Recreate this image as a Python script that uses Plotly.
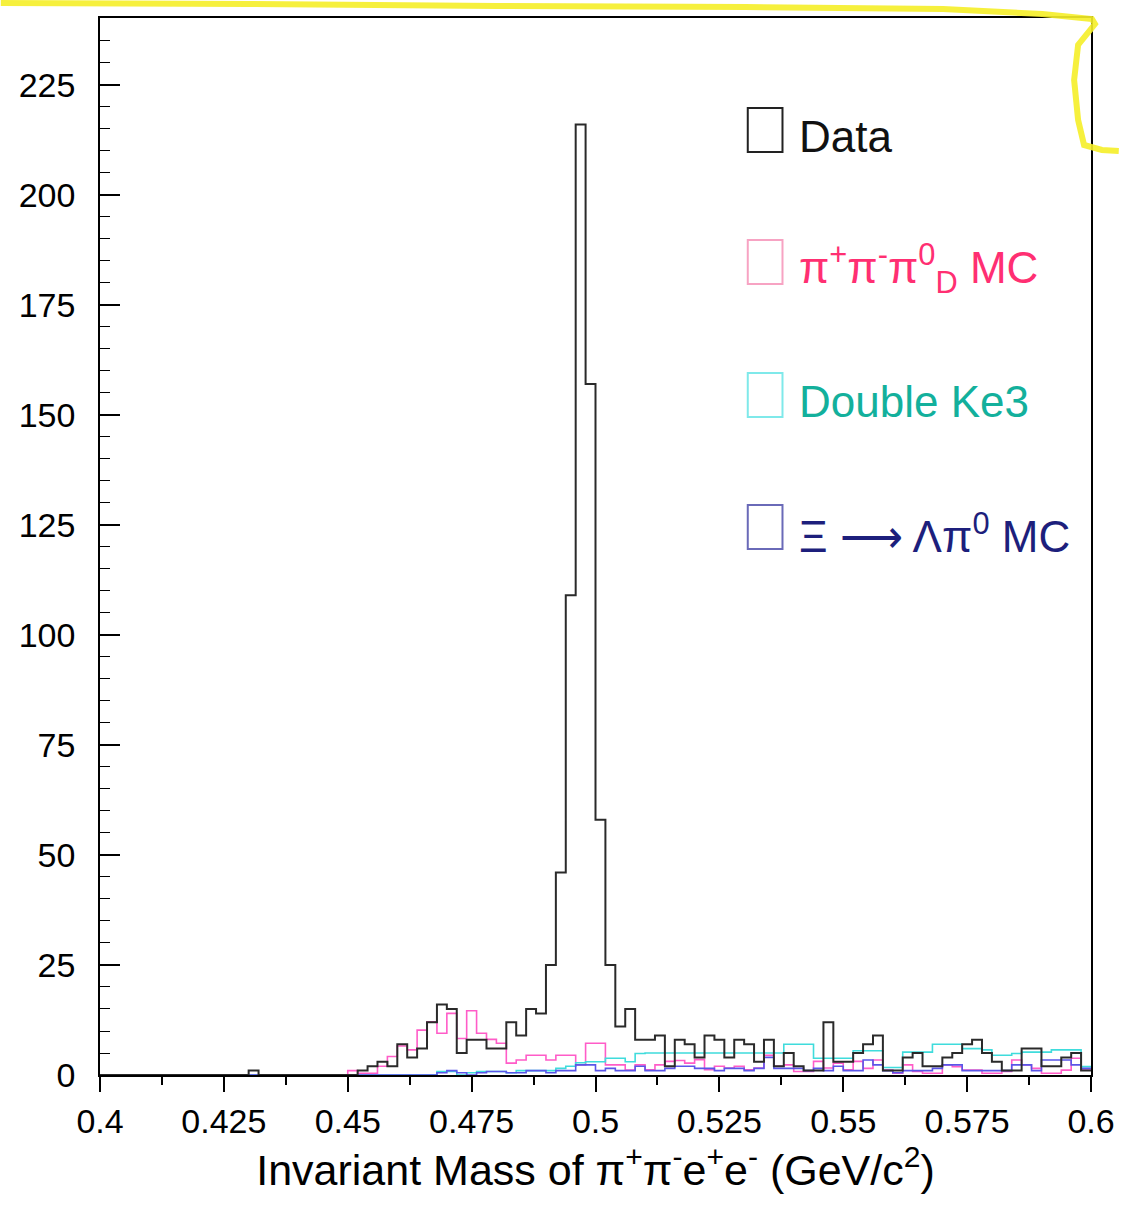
import plotly.graph_objects as go

# ---------------- data ----------------
bin_low = 0.4
bin_width = 0.002
n_bins = 100
bin_edges = [round(bin_low + i * bin_width, 4) for i in range(n_bins + 1)]

data_counts = [
    0, 0, 0, 0, 0, 0, 0, 0, 0, 0,
    0, 0, 0, 0, 0, 1, 0, 0, 0, 0,
    0, 0, 0, 0, 0, 0, 1, 2, 3, 2,
    7, 4, 6, 12, 16, 15, 5, 8, 8, 6,
    6, 12, 9, 15, 14, 25, 46, 109, 216, 157,
    58, 25, 11, 15, 8, 8, 9, 2, 8, 7,
    4, 9, 8, 4, 8, 7, 3, 8, 2, 5,
    2, 1, 1, 12, 3, 3, 5, 7, 9, 1,
    1, 4, 5, 2, 2, 4, 5, 7, 8, 5,
    3, 1, 1, 6, 6, 2, 2, 4, 5, 1,
]

pipipi_mc = [
    0, 0, 0, 0, 0, 0, 0, 0, 0, 0,
    0, 0, 0, 0, 0, 0, 0, 0, 0, 0,
    0, 0, 0, 0, 0, 1.0, 0.4, 0.4, 2.0, 4.2,
    6.6, 5.7, 10.2, 12.1, 9.5, 14.0, 8.3, 14.6, 9.5, 8.1,
    7.2, 2.7, 3.4, 4.5, 4.5, 3.4, 4.5, 4.5, 2.3, 7.2,
    7.2, 2.3, 2.3, 1.1, 2.3, 1.2, 2.3, 3.1, 3.3, 2.7,
    3.5, 1.2, 2.0, 1.6, 2.0, 1.2, 1.6, 4.5, 2.0, 2.3,
    0.8, 0.8, 3.1, 1.6, 2.7, 1.2, 3.1, 1.5, 3.4, 1.1,
    0.4, 2.3, 0.8, 0.4, 0.4, 2.3, 1.9, 1.1, 1.1, 0.4,
    0.4, 0.8, 3.4, 2.3, 1.5, 0.4, 0.4, 1.1, 3.8, 1.1,
]

double_ke3 = [
    0, 0, 0, 0, 0, 0, 0, 0, 0, 0,
    0, 0, 0, 0, 0, 0, 0, 0, 0, 0,
    0, 0, 0, 0, 0, 0, 0, 0, 0, 0,
    0, 0, 0, 0, 0.8, 0.8, 0, 0.5, 0.8, 0.8,
    0.8, 0.5, 1.0, 1.0, 1.0, 1.0, 1.5, 2.0, 2.8, 3.0,
    3.0, 3.8, 3.8, 3.0, 4.9, 5.0, 5.0, 5.0, 5.0, 5.0,
    5.0, 5.0, 5.0, 5.0, 5.0, 5.0, 5.0, 5.0, 5.0, 7.0,
    7.0, 7.0, 3.8, 3.8, 3.8, 3.8, 5.5, 5.5, 5.5, 1.7,
    1.7, 5.2, 5.2, 5.2, 7.0, 7.0, 7.0, 6.0, 6.0, 5.7,
    4.5, 4.5, 4.9, 5.2, 5.2, 5.2, 5.7, 5.7, 5.7, 1.9,
]

xi_lambda_pi0_mc = [
    0, 0, 0, 0, 0, 0, 0, 0, 0, 0,
    0, 0, 0, 0, 0, 0, 0, 0, 0, 0,
    0, 0, 0, 0, 0, 0, 0, 0, 0, 0,
    0, 0, 0, 0, 0.5, 1.0, 0.5, 0, 0.5, 0.8,
    0.8, 0.5, 0.5, 1.0, 1.0, 0.5, 1.0, 1.0, 2.3, 2.3,
    1.0, 1.5, 1.0, 1.0, 2.0, 1.0, 1.0, 1.5, 2.0, 2.0,
    1.5, 1.5, 1.0, 1.5, 1.5, 1.0, 1.5, 4.0, 1.5, 1.5,
    1.5, 1.0, 1.5, 1.0, 2.0, 1.0, 1.0, 3.4, 2.3, 1.0,
    0.5, 1.0, 1.0, 1.0, 1.5, 2.3, 2.3, 1.0, 1.0, 1.0,
    1.0, 1.0, 2.3, 2.3, 1.0, 3.4, 3.4, 3.4, 2.3, 1.5,
]

x_tick_values = [0.4, 0.425, 0.45, 0.475, 0.5, 0.525, 0.55, 0.575, 0.6]
x_tick_labels = ["0.4", "0.425", "0.45", "0.475", "0.5", "0.525", "0.55", "0.575", "0.6"]
x_minor_values = [0.4125, 0.4375, 0.4625, 0.4875, 0.5125, 0.5375, 0.5625, 0.5875]
y_tick_values = [0, 25, 50, 75, 100, 125, 150, 175, 200, 225]
y_tick_labels = ["0", "25", "50", "75", "100", "125", "150", "175", "200", "225"]

legend_labels = [
    "Data",
    "π<sup>+</sup>π<sup>-</sup>π<sup>0</sup><sub>D</sub> MC",
    "Double Ke3",
    "Ξ ⟶ Λπ<sup>0</sup> MC",
]
legend_text_colors = ["#111111", "#ff2f72", "#13b09c", "#1d1f7c"]
legend_box_colors = ["#222222", "#f7a3c3", "#7fe9ea", "#6a6ab8"]

series_values = [pipipi_mc, double_ke3, xi_lambda_pi0_mc, data_counts]
series_names = ["π+π-π0_D MC", "Double Ke3", "Ξ → Λπ0 MC", "Data"]
series_colors = ["#ff5cc8", "#3fdcdc", "#5a55e8", "#2a2a2a"]
series_widths = [1.6, 1.6, 1.6, 2.0]

# ---------------- figure ----------------
W, H = 1127, 1205
ML, MR, MT, MB = 100, 28, 18, 130
PW, PH = W - ML - MR, H - MT - MB


def px(x):
    return (x - ML) / PW


def py(y):
    return (H - MB - y) / PH


fig = go.Figure()
for vals, name, col, wd in zip(series_values, series_names, series_colors, series_widths):
    fig.add_trace(go.Scatter(
        x=bin_edges,
        y=list(vals) + [vals[-1]],
        mode="lines",
        line=dict(shape="hv", color=col, width=wd),
        name=name,
        showlegend=False,
        hoverinfo="skip",
    ))

font_main = "Liberation Sans, Arial, Helvetica, sans-serif"

fig.update_layout(
    width=W, height=H,
    margin=dict(l=ML, r=MR, t=MT, b=MB),
    paper_bgcolor="white",
    plot_bgcolor="white",
    font=dict(family=font_main, color="black"),
    xaxis=dict(
        range=[0.4, 0.6],
        showline=True, linecolor="black", linewidth=1.5, mirror=True,
        showgrid=False, zeroline=False,
        ticks="outside", ticklen=15, tickwidth=1.5, tickcolor="black",
        tickvals=x_tick_values, ticktext=x_tick_labels,
        tickfont=dict(size=34, family=font_main, color="black"),
        minor=dict(tickvals=x_minor_values, ticks="outside", ticklen=8,
                   tickwidth=1.5, tickcolor="black", showgrid=False),
        title=dict(
            text="Invariant Mass of π<sup>+</sup>π<sup>-</sup>e<sup>+</sup>e<sup>-</sup> (GeV/c<sup>2</sup>)",
            font=dict(size=43, family=font_main, color="black"),
            standoff=4,
        ),
    ),
    yaxis=dict(
        range=[0, 240.2],
        showline=True, linecolor="black", linewidth=1.5, mirror=True,
        showgrid=False, zeroline=False,
        ticks="inside", ticklen=20, tickwidth=1.5, tickcolor="black",
        tickvals=y_tick_values, ticktext=y_tick_labels,
        tickfont=dict(size=34, family=font_main, color="black"),
        ticklabelstandoff=16,
        minor=dict(dtick=5, ticks="inside", ticklen=10, tickwidth=1.2,
                   tickcolor="black", showgrid=False),
    ),
)

# legend drawn as boxes + labels
legend_row_y = [130, 262, 395, 527]
box_x0, box_x1 = 753, 788
for lab, tcol, bcol, yc in zip(legend_labels, legend_text_colors, legend_box_colors, legend_row_y):
    fig.add_shape(type="rect", xref="paper", yref="paper",
                  x0=px(box_x0), x1=px(box_x1), y0=py(yc + 22), y1=py(yc - 22),
                  line=dict(color=bcol, width=2), fillcolor="rgba(0,0,0,0)")
    fig.add_annotation(xref="paper", yref="paper", x=px(803), y=py(yc + 6),
                       xanchor="left", yanchor="middle", showarrow=False,
                       text=lab, font=dict(size=44, family=font_main, color=tcol))

# yellow highlighter mark on the scanned page
hl_pts = [(0, 3), (250, 4), (500, 6), (750, 7), (950, 9), (1050, 14), (1100, 19),
          (1103, 24), (1086, 45), (1082, 80), (1086, 120), (1092, 145), (1110, 150), (1127, 151)]
path = "M " + " L ".join(f"{px(x):.5f},{py(y):.5f}" for x, y in hl_pts)
fig.add_shape(type="path", xref="paper", yref="paper", path=path,
              line=dict(color="rgba(245,238,40,0.9)", width=6), layer="above")

fig.write_html("out.html")
